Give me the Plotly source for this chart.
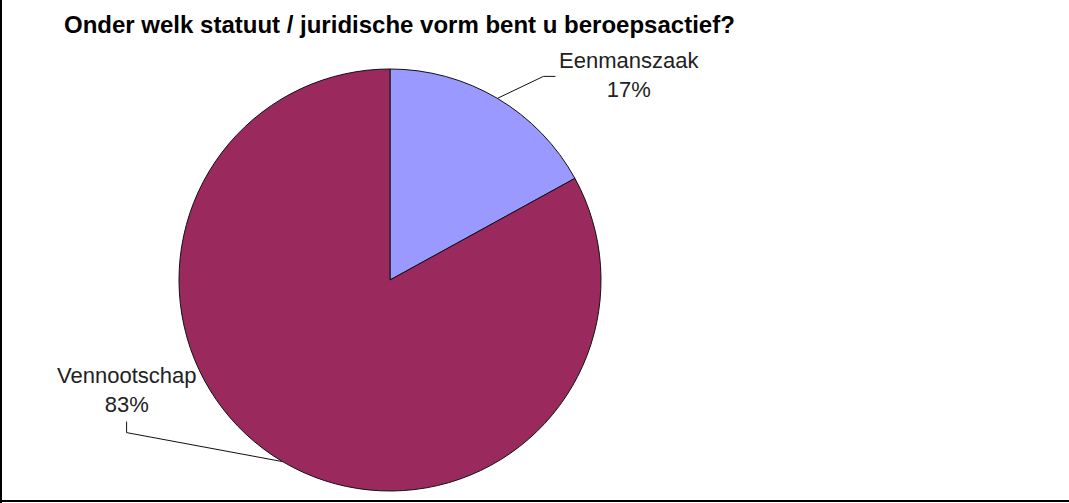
import math
import plotly.graph_objects as go

# Data
categories = ["Eenmanszaak", "Vennootschap"]
shares = [17, 83]
slice_colors = ["#9999FF", "#9A2A5E"]
title_text = "Onder welk statuut / juridische vorm bent u beroepsactief?"

# Canvas and pie geometry (pixels)
W, H = 1069, 503
CX, CY, R = 390, 280, 211

# Leader line geometry per label, offsets in pixels from the slice's mid-point on the rim:
# (elbow dx, elbow dy, end dx, end dy, text anchor dx, dy, xanchor, yanchor)
leaders = [
    (46, -22, 58, -22, 2, -1, "left", "middle"),
    (-156, -29, -156, -40, 0, -3, "center", "bottom"),
]

FONT = "Liberation Sans, Arial, sans-serif"


def px(x):
    return x / W


def py(y):
    return 1 - y / H


fig = go.Figure(
    go.Pie(
        labels=categories,
        values=shares,
        marker=dict(colors=slice_colors, line=dict(color="#111111", width=1)),
        sort=False,
        direction="clockwise",
        rotation=0,
        textinfo="none",
        hoverinfo="label+percent",
        showlegend=False,
        domain=dict(x=[px(CX - R), px(CX + R)], y=[py(CY + R), py(CY - R)]),
    )
)

shapes = []
annotations = []
total = sum(shares)
start = 0.0
for name, val, ld in zip(categories, shares, leaders):
    frac = val / total
    mid = (start + frac / 2) * 2 * math.pi
    start += frac
    ex = CX + R * math.sin(mid)
    ey = CY - R * math.cos(mid)
    bx, by = ex + ld[0], ey + ld[1]
    tx, ty = ex + ld[2], ey + ld[3]
    path = f"M {px(ex)} {py(ey)} L {px(bx)} {py(by)} L {px(tx)} {py(ty)}"
    shapes.append(dict(type="path", xref="paper", yref="paper", path=path,
                       line=dict(color="#111111", width=1)))
    pct = round(frac * 100)
    annotations.append(dict(
        x=px(tx + ld[4]), y=py(ty + ld[5]), xref="paper", yref="paper",
        xanchor=ld[6], yanchor=ld[7], showarrow=False, align="center",
        text=f"{name}<br>{pct}%",
        font=dict(family=FONT, size=22, color="#222222"),
    ))

annotations.append(dict(
    x=px(62), y=py(25), xref="paper", yref="paper", xanchor="left", yanchor="middle",
    showarrow=False, text=f"<b>{title_text}</b>",
    font=dict(family=FONT, size=24, color="#000000"),
))

# Frame lines on the left and bottom edges
shapes.append(dict(type="line", xref="paper", yref="paper", x0=px(1), x1=px(1), y0=0, y1=1,
                   line=dict(color="#000000", width=2)))
shapes.append(dict(type="line", xref="paper", yref="paper", x0=0, x1=1, y0=py(501), y1=py(501),
                   line=dict(color="#000000", width=2)))

fig.update_layout(
    width=W, height=H,
    margin=dict(l=0, r=0, t=0, b=0),
    paper_bgcolor="white", plot_bgcolor="white",
    shapes=shapes, annotations=annotations,
)

fig.write_html("out.html")
